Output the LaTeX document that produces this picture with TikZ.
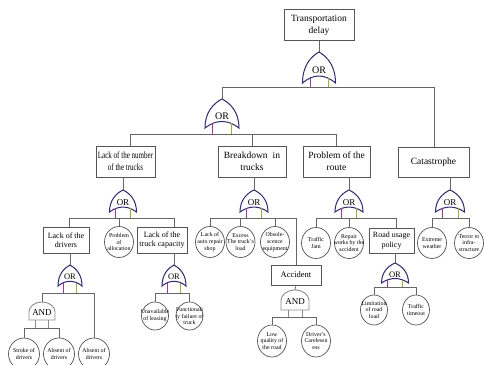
\documentclass[tikz,border=0pt]{standalone}
\usepackage{fontspec}
\setmainfont{Liberation Serif}
\usepackage{graphicx}
\usetikzlibrary{shapes.geometric,calc}
\definecolor{lnc}{HTML}{666666}
\definecolor{boxc}{HTML}{555555}
\definecolor{gatec}{HTML}{2B2B6E}
\definecolor{legl}{HTML}{9A3A9A}
\definecolor{legr}{HTML}{A8A83A}
\definecolor{andc}{HTML}{8C8C8C}
\newcommand{\zw}[1]{\makebox[0pt]{#1}}
\newcommand{\sq}[1]{\scalebox{0.74}[1]{#1}}
\tikzset{
  conn/.style={draw=lnc, line width=0.7pt},
  bigbox/.style={draw=boxc, line width=0.7pt, rectangle, inner sep=0pt, align=center, font=\fontsize{9.5}{12}\selectfont},
  smallbox/.style={bigbox, font=\fontsize{8}{9.5}\selectfont},
  ev/.style={draw=boxc, line width=0.7pt, ellipse, inner sep=0pt, minimum width=29pt, minimum height=31pt, align=center, font=\fontsize{5.9}{6.9}\selectfont},
  gatebox/.style={rectangle, inner sep=0pt, draw=none},
  orline/.style={draw=gatec, fill=white, line width=1pt},
  andline/.style={draw=andc, fill=white, line width=0.9pt},
  gtext/.style={inner sep=0pt},
}
% name, x, apex y, half width, body height, leg length, font size
\newcommand{\orgate}[7]{%
  \node[gatebox, minimum width={2*#4}, minimum height={#5+#6}, anchor=north] (#1) at (#2,#3) {};
  \draw[orline] (#2-#4,#3+#5) .. controls (#2-#4,#3+0.45*#5) and (#2-0.5*#4,#3+0.15*#5) .. (#2,#3)
     .. controls (#2+0.5*#4,#3+0.15*#5) and (#2+#4,#3+0.45*#5) .. (#2+#4,#3+#5)
     .. controls (#2+0.35*#4,#3+0.7*#5) and (#2-0.35*#4,#3+0.7*#5) .. cycle;
  \draw[draw=legl, line width=0.8pt] (#2-0.55*#4,#3+0.84*#5) -- (#2-0.55*#4,#3+#5+#6);
  \draw[draw=legr, line width=0.8pt] (#2+0.55*#4,#3+0.84*#5) -- (#2+0.55*#4,#3+#5+#6);
  \node[gtext, font=\fontsize{#7}{#7}\selectfont] (#1-t) at (#2,#3+0.58*#5) {OR};
}
\newcommand{\andgate}[7]{%
  \node[gatebox, minimum width={2*#4}, minimum height={#5+#6}, anchor=north] (#1) at (#2,#3) {};
  \draw[andline] (#2-#4,#3+#5) -- (#2-#4,#3+0.75*#4) arc[start angle=180, end angle=0, x radius=#4pt, y radius=0.75*#4pt] -- (#2+#4,#3+#5) -- cycle;
  \draw[draw=andc, line width=0.8pt] (#2-0.5*#4,#3+#5) -- (#2-0.5*#4,#3+#5+#6);
  \draw[draw=andc, line width=0.8pt] (#2+0.5*#4,#3+#5) -- (#2+0.5*#4,#3+#5+#6);
  \node[gtext, font=\fontsize{#7}{#7}\selectfont] (#1-t) at (#2,#3+0.6*#5) {AND};
}
\begin{document}
\begin{tikzpicture}[x=1pt, y=-1pt]
\useasboundingbox[fill=white] (0,0) rectangle (484,364);

% boxes
\node[bigbox, minimum width=70pt, minimum height=31pt] (top) at (319,25) {Transportation\\delay};
\node[bigbox, minimum width=59pt, minimum height=31pt] (lt) at (125.5,161.5) {\sq{Lack of the number}\\\sq{of the trucks}};
\node[bigbox, minimum width=68pt, minimum height=31pt] (bd) at (252,161.5) {Breakdown\hspace{5pt}in\\trucks};
\node[bigbox, minimum width=67pt, minimum height=31pt] (pr) at (336.5,161.5) {Problem of the\\route};
\node[bigbox, minimum width=71pt, minimum height=30pt] (ca) at (433.5,162) {Catastrophe};

\node[smallbox, minimum width=46pt, minimum height=26pt] (ld) at (66,240) {Lack of the\\drivers};
\node[smallbox, minimum width=50pt, minimum height=26pt] (ltc) at (162,240) {Lack of the\\truck capacity};
\node[smallbox, minimum width=45pt, minimum height=25pt] (rup) at (391.5,240.5) {Road usage\\policy};
\node[smallbox, minimum width=50pt, minimum height=20pt, font=\fontsize{8.5}{10}\selectfont] (acc) at (296,275) {Accident};

% events
\node[ev] (pa) at (119,242) {\zw{Problem}\\\zw{of}\\\zw{allocation}};
\node[ev] (ar) at (210,242) {\zw{Lack of}\\\zw{auto repair}\\\zw{shop}};
\node[ev] (ex) at (240.5,242) {\zw{Excess}\\\zw{The truck's}\\\zw{load}};
\node[ev] (ob) at (275,242) {\zw{Obsole-}\\\zw{scence}\\\zw{equipment}};
\node[ev] (tj) at (316,243) {\zw{Traffic}\\\zw{Jam}};
\node[ev] (rw) at (349,243) {\zw{Repair}\\\zw{works by the}\\\zw{accident}};
\node[ev] (ew) at (432,243) {\zw{Extreme}\\\zw{weather}};
\node[ev] (ti) at (469,243) {\zw{Terror to}\\\zw{infra-}\\\zw{structure}};
\node[ev, minimum width=27pt, minimum height=28pt] (ul) at (155,316) {\zw{Unavailable}\\\zw{of leasing}};
\node[ev, minimum width=27pt, minimum height=28pt] (ff) at (189.5,316) {\zw{Functionali}\\\zw{ty failure of}\\\zw{truck}};
\node[ev, minimum width=31pt, minimum height=32pt] (sd) at (24,354) {\zw{Stroke of}\\\zw{drivers}};
\node[ev, minimum width=31pt, minimum height=32pt] (ad) at (59,354) {\zw{Absent of}\\\zw{drivers}};
\node[ev, minimum width=31pt, minimum height=32pt] (ad2) at (94,354) {\zw{Absent of}\\\zw{drivers}};
\node[ev, minimum width=29pt, minimum height=32pt] (lq) at (272,341) {\zw{Low}\\\zw{quality of}\\\zw{the road}};
\node[ev, minimum width=29pt, minimum height=32pt] (dc) at (316,341) {\zw{Driver's}\\\zw{Carelessn}\\\zw{ess}};
\node[ev, minimum width=27pt, minimum height=30pt] (lr) at (374,310) {\zw{Limitation}\\\zw{of road}\\\zw{load}};
\node[ev, minimum width=27pt, minimum height=30pt] (tt) at (416,310) {\zw{Traffic}\\\zw{timeout}};

% gates
\orgate{G0}{319}{52}{16.5}{31}{4}{10}
\orgate{G1}{222}{99}{17}{29}{6}{10}
\orgate{G2}{123}{190}{13.5}{22}{6}{9}
\orgate{G3}{254}{190}{14}{22}{6}{9}
\orgate{G4}{349}{190}{14}{22}{6}{9}
\orgate{G5}{450}{190}{14.5}{22}{6}{9}
\orgate{G7}{70}{265}{12}{21}{7}{8.5}
\orgate{G8}{174}{265}{12}{21}{7}{8.5}
\orgate{G6}{395}{263}{13.5}{20}{4}{8.5}
\andgate{A1}{42}{302}{13}{18}{8}{9}
\andgate{A2}{295}{290}{14}{20}{7}{9}

% connectors
\draw[conn] (top.south) -- (G0.north);
\draw[conn] (G0.south) -| (G1.north);
\draw[conn] (G0.south) -| ([xshift=0.5pt]ca.north);
\draw[conn] (G1.south) -| ([xshift=5pt]lt.north);
\draw[conn] (G1.south) -| (bd.north);
\draw[conn] (G1.south) -| (pr.north);
\draw[conn] ([xshift=-2.5pt]lt.south) -- (G2.north);
\draw[conn] ([xshift=2pt]bd.south) -- (G3.north);
\draw[conn] ([xshift=12.5pt]pr.south) -- (G4.north);
\draw[conn] ([xshift=16.5pt]ca.south) -- (G5.north);
\draw[conn] (G2.south) -| ([xshift=3pt]ld.north);
\draw[conn] (G2.south) -| (pa.north);
\draw[conn] (G2.south) -| ([xshift=12pt]ltc.north);
\draw[conn] (G3.south) -| (ar.north);
\draw[conn] (G3.south) -| (ex.north);
\draw[conn] (G3.south) -| (ob.north);
\draw[conn] (G3.south) -| (acc.north);
\draw[conn] (G4.south) -| (tj.north);
\draw[conn] (G4.south) -| (rw.north);
\draw[conn] (G4.south) -| ([xshift=4.5pt]rup.north);
\draw[conn] (G5.south) -| (ew.north);
\draw[conn] (G5.south) -| (ti.north);
\draw[conn] ([xshift=4pt]ld.south) -- (G7.north);
\draw[conn] ([xshift=12pt]ltc.south) -- (G8.north);
\draw[conn] (G7.south) -| (A1.north);
\draw[conn] (G7.south) -| (ad2.north);
\draw[conn] (A1.south) -| (sd.north);
\draw[conn] (A1.south) -| (ad.north);
\draw[conn] (G8.south) -| (ul.north);
\draw[conn] (G8.south) -| (ff.north);
\draw[conn] (acc.south) -- (A2.north);
\draw[conn] (A2.south) -| (lq.north);
\draw[conn] (A2.south) -| (dc.north);
\draw[conn] ([xshift=3.5pt]rup.south) -- (G6.north);
\draw[conn] (G6.south) -| (lr.north);
\draw[conn] (G6.south) -| (tt.north);
\end{tikzpicture}
\end{document}
